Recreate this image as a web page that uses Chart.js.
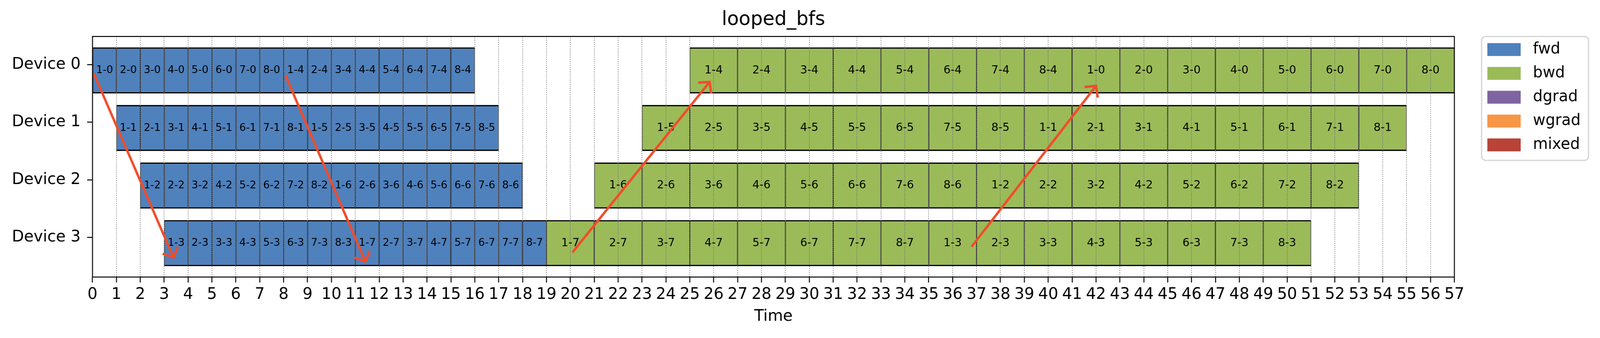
<!DOCTYPE html>
<html>
<head>
<meta charset="utf-8">
<script src="https://cdn.jsdelivr.net/npm/chart.js@4.4.1/dist/chart.umd.min.js"></script>
<style>
  html, body { margin: 0; padding: 0; background: #ffffff; overflow: hidden; }
  #c { display: block; transform-origin: 0 0; }
</style>
</head>
<body>
<canvas id="c" width="4175" height="865"></canvas>
<script>
// ---------------- DATA ----------------
const chartTitle = 'looped_bfs';
const xTitle = 'Time';
const devices = ['Device 0', 'Device 1', 'Device 2', 'Device 3'];
const timeMax = 57;
const seriesNames = ['fwd', 'bwd', 'dgrad', 'wgrad', 'mixed'];

// [device, start, end, label]
const fwdCells = [
  [0,0,1,'1-0'],[0,1,2,'2-0'],[0,2,3,'3-0'],[0,3,4,'4-0'],[0,4,5,'5-0'],[0,5,6,'6-0'],[0,6,7,'7-0'],[0,7,8,'8-0'],
  [0,8,9,'1-4'],[0,9,10,'2-4'],[0,10,11,'3-4'],[0,11,12,'4-4'],[0,12,13,'5-4'],[0,13,14,'6-4'],[0,14,15,'7-4'],[0,15,16,'8-4'],
  [1,1,2,'1-1'],[1,2,3,'2-1'],[1,3,4,'3-1'],[1,4,5,'4-1'],[1,5,6,'5-1'],[1,6,7,'6-1'],[1,7,8,'7-1'],[1,8,9,'8-1'],
  [1,9,10,'1-5'],[1,10,11,'2-5'],[1,11,12,'3-5'],[1,12,13,'4-5'],[1,13,14,'5-5'],[1,14,15,'6-5'],[1,15,16,'7-5'],[1,16,17,'8-5'],
  [2,2,3,'1-2'],[2,3,4,'2-2'],[2,4,5,'3-2'],[2,5,6,'4-2'],[2,6,7,'5-2'],[2,7,8,'6-2'],[2,8,9,'7-2'],[2,9,10,'8-2'],
  [2,10,11,'1-6'],[2,11,12,'2-6'],[2,12,13,'3-6'],[2,13,14,'4-6'],[2,14,15,'5-6'],[2,15,16,'6-6'],[2,16,17,'7-6'],[2,17,18,'8-6'],
  [3,3,4,'1-3'],[3,4,5,'2-3'],[3,5,6,'3-3'],[3,6,7,'4-3'],[3,7,8,'5-3'],[3,8,9,'6-3'],[3,9,10,'7-3'],[3,10,11,'8-3'],
  [3,11,12,'1-7'],[3,12,13,'2-7'],[3,13,14,'3-7'],[3,14,15,'4-7'],[3,15,16,'5-7'],[3,16,17,'6-7'],[3,17,18,'7-7'],[3,18,19,'8-7']
];
const bwdCells = [
  [3,19,21,'1-7'],[3,21,23,'2-7'],[3,23,25,'3-7'],[3,25,27,'4-7'],[3,27,29,'5-7'],[3,29,31,'6-7'],[3,31,33,'7-7'],[3,33,35,'8-7'],
  [3,35,37,'1-3'],[3,37,39,'2-3'],[3,39,41,'3-3'],[3,41,43,'4-3'],[3,43,45,'5-3'],[3,45,47,'6-3'],[3,47,49,'7-3'],[3,49,51,'8-3'],
  [2,21,23,'1-6'],[2,23,25,'2-6'],[2,25,27,'3-6'],[2,27,29,'4-6'],[2,29,31,'5-6'],[2,31,33,'6-6'],[2,33,35,'7-6'],[2,35,37,'8-6'],
  [2,37,39,'1-2'],[2,39,41,'2-2'],[2,41,43,'3-2'],[2,43,45,'4-2'],[2,45,47,'5-2'],[2,47,49,'6-2'],[2,49,51,'7-2'],[2,51,53,'8-2'],
  [1,23,25,'1-5'],[1,25,27,'2-5'],[1,27,29,'3-5'],[1,29,31,'4-5'],[1,31,33,'5-5'],[1,33,35,'6-5'],[1,35,37,'7-5'],[1,37,39,'8-5'],
  [1,39,41,'1-1'],[1,41,43,'2-1'],[1,43,45,'3-1'],[1,45,47,'4-1'],[1,47,49,'5-1'],[1,49,51,'6-1'],[1,51,53,'7-1'],[1,53,55,'8-1'],
  [0,25,27,'1-4'],[0,27,29,'2-4'],[0,29,31,'3-4'],[0,31,33,'4-4'],[0,33,35,'5-4'],[0,35,37,'6-4'],[0,37,39,'7-4'],[0,39,41,'8-4'],
  [0,41,43,'1-0'],[0,43,45,'2-0'],[0,45,47,'3-0'],[0,47,49,'4-0'],[0,49,51,'5-0'],[0,51,53,'6-0'],[0,53,55,'7-0'],[0,55,57,'8-0']
];
const dgradCells = [];
const wgradCells = [];
const mixedCells = [];

// arrows in data units: [xFrom, yFrom, xTo, yTo]
const arrows = [
  [0.06, 0.16, 3.39, 3.35],
  [8.07, 0.18, 11.42, 3.42],
  [20.09, 3.26, 25.83, 0.30],
  [36.79, 3.165, 42.0, 0.37]
];

// ---------------- STYLE ----------------
const FONT = '"DejaVu Sans", "Liberation Sans", sans-serif';
const DESIGN_W = 4175, DESIGN_H = 865;
const colors = { fwd: '#4F81BD', bwd: '#9BBB59', dgrad: '#8064A2', wgrad: '#F79646', mixed: '#B94337' };
const cellFontSize = { fwd: 27, bwd: 29 };
const rowShift = 0.1;
const arrowColor = '#F24C2A';
const legendStyle = { gap: 71, width: 279, height: 317, padX: 15, padY: 17, boxW: 87, boxH: 33, pitch: 61, textGap: 32, font: 40, radius: 10 };

Chart.defaults.font.family = FONT;
Chart.defaults.color = '#000';

// fit the fixed-size drawing to the actual viewport width
const canvasEl = document.getElementById('c');
const fitX = Math.min(1, (window.innerWidth || DESIGN_W) / DESIGN_W);
canvasEl.style.width = DESIGN_W + 'px';
canvasEl.style.height = DESIGN_H + 'px';
canvasEl.style.transform = 'scaleX(' + fitX + ')';

function toBars(cells) {
  return cells.map(c => ({ x: [c[1], c[2]], y: c[0] + rowShift, label: c[3] }));
}

function barDataset(name, cells) {
  return {
    label: name,
    data: toBars(cells),
    backgroundColor: colors[name],
    borderColor: '#000',
    borderWidth: { top: 3.5, bottom: 3.5, left: 1.5, right: 1.5 },
    borderSkipped: false,
    inflateAmount: 0,
    grouped: false,
    categoryPercentage: 0.8,
    barPercentage: 1.0,
    cellFont: cellFontSize[name]
  };
}

const cellLabelPlugin = {
  id: 'cellLabels',
  afterDraw(chart) {
    const ctx = chart.ctx;
    chart.data.datasets.forEach((ds, di) => {
      if (!ds.cellFont) return;
      const meta = chart.getDatasetMeta(di);
      ctx.save();
      ctx.font = ds.cellFont + 'px ' + FONT;
      ctx.fillStyle = '#000';
      ctx.textAlign = 'center';
      ctx.textBaseline = 'middle';
      meta.data.forEach((el, i) => {
        const p = el.getProps(['x', 'y', 'base'], true);
        ctx.fillText(ds.data[i].label, (p.x + p.base) / 2, p.y);
      });
      ctx.restore();
    });
  }
};

const arrowPlugin = {
  id: 'arrows',
  afterDraw(chart) {
    const ctx = chart.ctx;
    const xs = chart.scales.x, ys = chart.scales.y;
    ctx.save();
    ctx.strokeStyle = arrowColor;
    ctx.lineWidth = 6.2;
    ctx.lineJoin = 'miter';
    ctx.lineCap = 'butt';
    arrows.forEach(a => {
      const x0 = xs.getPixelForValue(a[0]), y0 = ys.getPixelForValue(a[1]);
      const x1 = xs.getPixelForValue(a[2]), y1 = ys.getPixelForValue(a[3]);
      ctx.beginPath();
      ctx.moveTo(x0, y0);
      ctx.lineTo(x1, y1);
      ctx.stroke();
      const ang = Math.atan2(y1 - y0, x1 - x0);
      const L = 30, h = 47 * Math.PI / 180;
      ctx.beginPath();
      ctx.moveTo(x1 - L * Math.cos(ang - h), y1 - L * Math.sin(ang - h));
      ctx.lineTo(x1, y1);
      ctx.lineTo(x1 - L * Math.cos(ang + h), y1 - L * Math.sin(ang + h));
      ctx.stroke();
    });
    ctx.restore();
  }
};

const framePlugin = {
  id: 'frame',
  afterDraw(chart) {
    const ctx = chart.ctx;
    const a = chart.chartArea;
    ctx.save();
    ctx.strokeStyle = '#000';
    ctx.lineWidth = 2.5;
    ctx.strokeRect(a.left, a.top, a.right - a.left, a.bottom - a.top);
    ctx.restore();
  }
};

// legend drawn next to the plot area from the dataset labels/colours
const boxLegendPlugin = {
  id: 'boxLegend',
  afterDraw(chart) {
    const ctx = chart.ctx;
    const a = chart.chartArea;
    const L = legendStyle;
    const left = a.right + L.gap, top = a.top;
    ctx.save();
    ctx.fillStyle = 'rgba(255,255,255,0.8)';
    ctx.strokeStyle = '#d6d6d6';
    ctx.lineWidth = 3.3;
    ctx.beginPath();
    ctx.roundRect(left, top, L.width, L.height, L.radius);
    ctx.fill();
    ctx.stroke();
    ctx.font = L.font + 'px ' + FONT;
    ctx.textAlign = 'left';
    ctx.textBaseline = 'middle';
    chart.data.datasets.forEach((ds, i) => {
      const bx = left + L.padX, by = top + L.padY + i * L.pitch;
      ctx.fillStyle = ds.backgroundColor;
      ctx.fillRect(bx, by, L.boxW, L.boxH);
      ctx.fillStyle = '#000';
      ctx.fillText(ds.label, bx + L.boxW + L.textGap, by + L.boxH / 2);
    });
    ctx.restore();
  }
};

new Chart(canvasEl, {
  type: 'bar',
  data: {
    datasets: [
      barDataset('fwd', fwdCells),
      barDataset('bwd', bwdCells),
      barDataset('dgrad', dgradCells),
      barDataset('wgrad', wgradCells),
      barDataset('mixed', mixedCells)
    ]
  },
  options: {
    indexAxis: 'y',
    responsive: false,
    maintainAspectRatio: false,
    devicePixelRatio: 1,
    animation: false,
    events: [],
    layout: { padding: { left: 14, right: 380, top: 0, bottom: 29.6 } },
    scales: {
      x: {
        type: 'linear',
        position: 'bottom',
        min: 0,
        max: timeMax,
        offset: false,
        ticks: { stepSize: 1, autoSkip: false, maxRotation: 0, minRotation: 0, padding: 7, font: { size: 41 }, color: '#000' },
        grid: { display: true, offset: false, drawOnChartArea: true, color: '#6e6e6e', lineWidth: 1.9, z: 1,
                drawTicks: true, tickLength: 14, tickColor: '#000', tickWidth: 2.5, tickBorderDash: [] },
        border: { display: false, dash: [1.9, 3.0] },
        title: { display: true, text: xTitle, font: { size: 41 }, color: '#000', padding: { top: 0, bottom: 0 } }
      },
      y: {
        type: 'linear',
        position: 'left',
        reverse: true,
        offset: false,
        min: -0.49,
        max: 3.69,
        afterBuildTicks: (axis) => { axis.ticks = devices.map((d, i) => ({ value: i })); },
        ticks: { padding: 17, font: { size: 41 }, color: '#000', callback: (v) => devices[v] },
        grid: { display: true, offset: false, drawOnChartArea: false, drawTicks: true, tickLength: 14, tickColor: '#000', tickWidth: 2.5 },
        border: { display: false }
      }
    },
    plugins: {
      title: {
        display: true,
        text: chartTitle,
        fullSize: false,
        font: { size: 50, weight: 'normal' },
        color: '#000',
        padding: { top: 21, bottom: 12.3 }
      },
      legend: { display: false },
      tooltip: { enabled: false }
    }
  },
  plugins: [cellLabelPlugin, arrowPlugin, framePlugin, boxLegendPlugin]
});
</script>
</body>
</html>
